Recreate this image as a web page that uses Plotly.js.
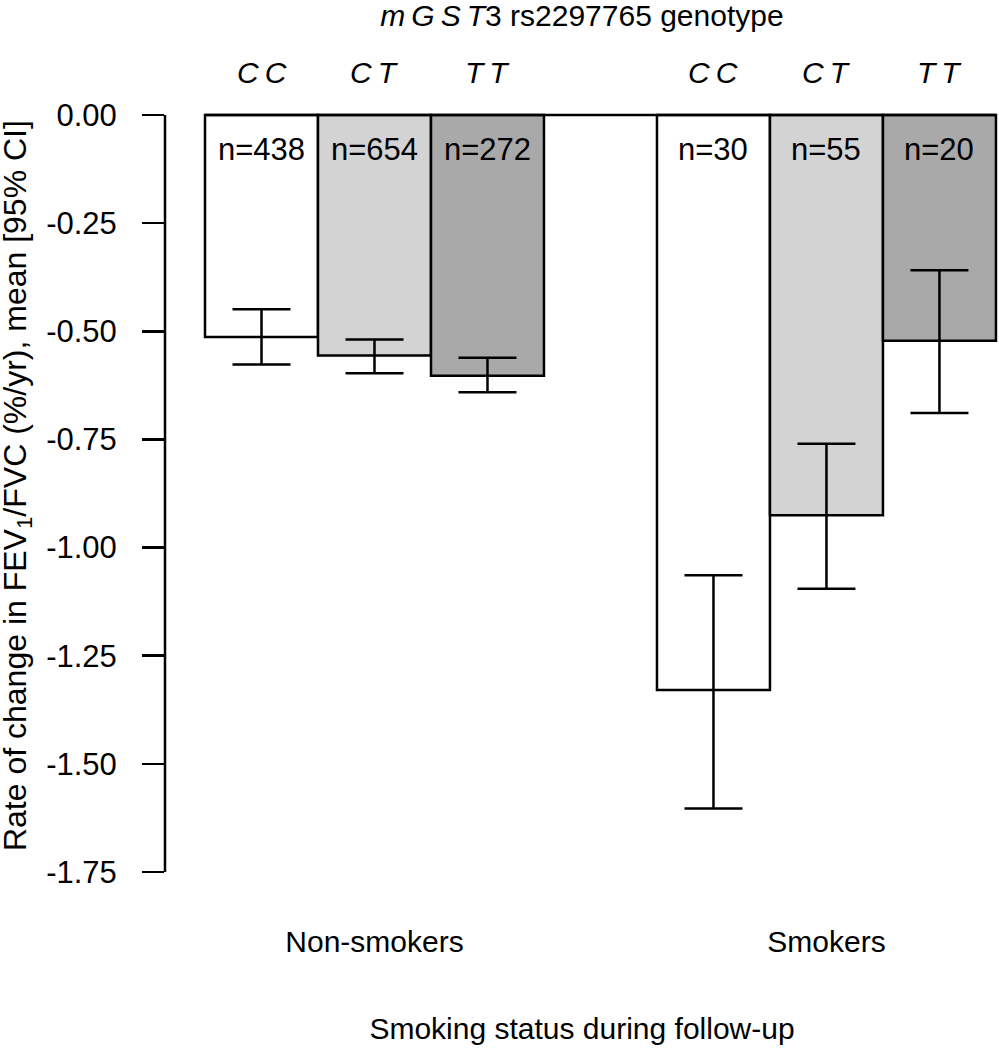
<!DOCTYPE html>
<html>
<head>
<meta charset="utf-8">
<script src="https://cdn.plot.ly/plotly-3.0.1.min.js"></script>
<style>html,body{margin:0;padding:0;background:#fff;}#chart{width:999px;height:1050px;}</style>
</head>
<body>
<div id="chart"></div>
<script>
// ---- data ----
const groups = ["Non-smokers", "Smokers"];
const genotypes = ["C\u2009C", "C\u2009T", "T\u2009T"];
const genotypeColors = ["#ffffff", "#d3d3d3", "#a9a9a9"];
const nonSmokerMean  = [-0.513, -0.556, -0.603];
const nonSmokerLower = [-0.577, -0.597, -0.641];
const nonSmokerUpper = [-0.449, -0.519, -0.561];
const nonSmokerN     = [438, 654, 272];
const smokerMean  = [-1.329, -0.925, -0.522];
const smokerLower = [-1.603, -1.095, -0.689];
const smokerUpper = [-1.064, -0.760, -0.359];
const smokerN     = [30, 55, 20];
const yTicks = [0, -0.25, -0.5, -0.75, -1, -1.25, -1.5, -1.75];
const yTickText = ["0.00", "-0.25", "-0.50", "-0.75", "-1.00", "-1.25", "-1.50", "-1.75"];

// ---- build ----
const FONT = "Liberation Sans, Arial, sans-serif";
const FS = 30;
const means = [nonSmokerMean, smokerMean];
const lowers = [nonSmokerLower, smokerLower];
const uppers = [nonSmokerUpper, smokerUpper];
const ns = [nonSmokerN, smokerN];

const xs = [], ys = [], colors = [], errPlus = [], errMinus = [];
const annotations = [];
groups.forEach((g, gi) => {
  genotypes.forEach((gt, k) => {
    const x = gi * 4 + k + 1;
    xs.push(x);
    ys.push(means[gi][k]);
    colors.push(genotypeColors[k]);
    errPlus.push(uppers[gi][k] - means[gi][k]);
    errMinus.push(means[gi][k] - lowers[gi][k]);
    annotations.push({x: x, y: 0, xref: 'x', yref: 'y', text: 'n=' + ns[gi][k],
      showarrow: false, yanchor: 'middle', yshift: -35,
      font: {family: FONT, size: 31, color: '#000'}});
    annotations.push({x: x, y: 0, xref: 'x', yref: 'y', text: '<i>' + gt + '</i>',
      showarrow: false, yanchor: 'middle', yshift: 42,
      font: {family: FONT, size: FS, color: '#000'}});
  });
});
const groupCenters = groups.map((g, gi) => gi * 4 + 2);

annotations.push({xref: 'paper', yref: 'paper', x: -0.177, y: 0.510, xanchor: 'center', yanchor: 'middle',
  textangle: -90, showarrow: false,
  text: 'Rate of change in FEV<sub>1</sub>/FVC (%/yr), mean [95% CI]',
  font: {family: FONT, size: 32, color: '#000'}});

const trace = {
  type: 'bar', x: xs, y: ys, width: 1,
  marker: {color: colors, line: {color: '#000', width: 2.5}},
  error_y: {type: 'data', symmetric: false, array: errPlus, arrayminus: errMinus,
    color: '#000', thickness: 2.5, width: 29},
  hoverinfo: 'skip', showlegend: false
};

const layout = {
  width: 999, height: 1050,
  margin: {l: 165, r: 0, t: 102, b: 165},
  paper_bgcolor: '#fff', plot_bgcolor: '#fff',
  font: {family: FONT, size: FS, color: '#000'},
  title: {text: '<i>m\u2009G\u2009S\u2009T</i>3 rs2297765 genotype', x: 0.5, xref: 'paper', xanchor: 'center',
    y: 1 - 15 / 1050, yref: 'container', yanchor: 'middle', font: {family: FONT, size: FS, color: '#000'}},
  xaxis: {range: [0.146, 7.527], tickvals: groupCenters, ticktext: groups, ticks: '',
    showgrid: false, zeroline: false, showline: false, ticklabelstandoff: 36,
    tickfont: {family: FONT, size: FS, color: '#000'},
    title: {text: 'Smoking status during follow-up', standoff: 60, font: {family: FONT, size: FS, color: '#000'}}},
  yaxis: {range: [-1.78, 0.03], tickvals: yTicks, ticktext: yTickText, ticks: 'outside', ticklen: 22,
    tickwidth: 2.5, tickcolor: '#000', showgrid: false, zeroline: false, showline: false,
    ticklabelstandoff: 19,
    tickfont: {family: FONT, size: 31, color: '#000'}},
  shapes: [
    {type: 'line', xref: 'paper', yref: 'y', x0: 0, x1: 0, y0: 0, y1: -1.75, line: {color: '#000', width: 2.5}},
    {type: 'line', xref: 'x', yref: 'y', x0: 0.5, x1: 7.5, y0: 0, y1: 0, line: {color: '#000', width: 2.5}}
  ],
  annotations: annotations,
  bargap: 0
};

Plotly.newPlot('chart', [trace], layout, {displayModeBar: false, staticPlot: true});
</script>
</body>
</html>
